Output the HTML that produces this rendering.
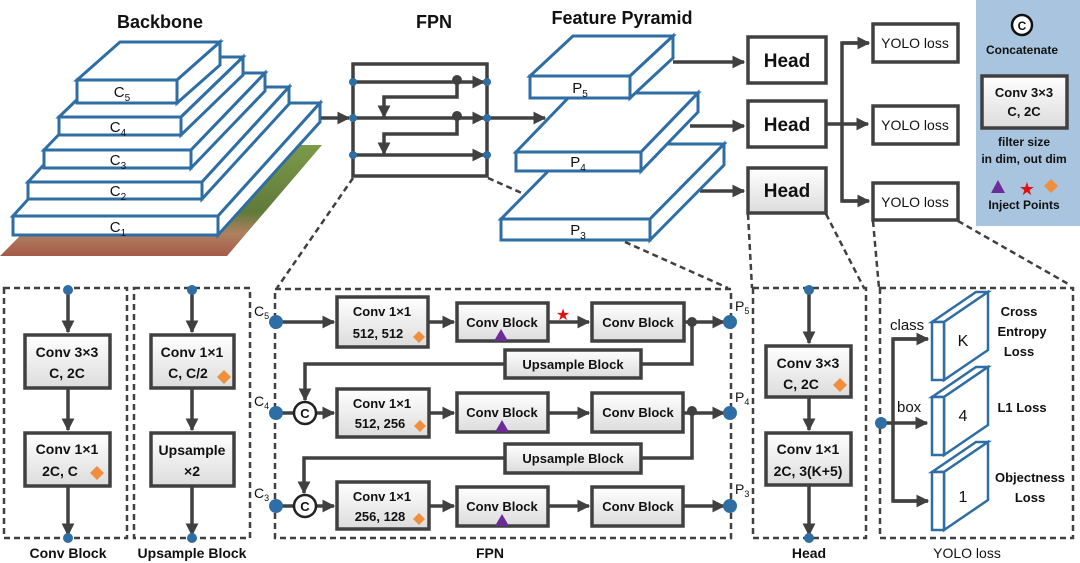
<!DOCTYPE html>
<html><head><meta charset="utf-8"><style>
html,body{margin:0;padding:0;background:#fff}
svg{display:block}
text{font-family:"Liberation Sans",sans-serif;fill:#111}
.b{font-weight:bold}
</style></head><body>
<svg width="1080" height="563" viewBox="0 0 1080 563" xmlns="http://www.w3.org/2000/svg">
<defs>
<marker id="a" viewBox="0 0 10 10" refX="9" refY="5" markerWidth="13" markerHeight="13" markerUnits="userSpaceOnUse" orient="auto"><path d="M0,0L10,5L0,10z" fill="#404040"/></marker>
<linearGradient id="g" x1="0" y1="0" x2="0" y2="1"><stop offset="0" stop-color="#ffffff"/><stop offset="1" stop-color="#dcdcdc"/></linearGradient>
<linearGradient id="img" x1="0" y1="0" x2="0" y2="1"><stop offset="0" stop-color="#7d9a4a"/><stop offset="0.6" stop-color="#5f7a3a"/><stop offset="0.8" stop-color="#b08060"/><stop offset="1" stop-color="#a45a48"/></linearGradient>
</defs>

<text x="160" y="28" font-size="18" class="b" text-anchor="middle">Backbone</text>
<text x="434" y="28" font-size="18" class="b" text-anchor="middle">FPN</text>
<text x="622" y="24" font-size="18" class="b" text-anchor="middle">Feature Pyramid</text>

<polygon points="0,256 227,256 322,145 110,145" fill="url(#img)"/>

<g fill="#fff" stroke="#2f6ea5" stroke-width="3" stroke-linejoin="miter">
<polygon points="13,216 115,103 320,103 218,216"/><polygon points="218,216 320,103 320,122 218,235"/><rect x="13" y="216" width="205" height="19"/>
<polygon points="28,182 115,87 289,87 202,182"/><polygon points="202,182 289,87 289,104 202,199"/><rect x="28" y="182" width="174" height="17"/>
<polygon points="44,150 118,73 265,73 191,150"/><polygon points="191,150 265,73 265,91 191,168"/><rect x="44" y="150" width="147" height="18"/>
<polygon points="59,117 121,57 243,57 181,117"/><polygon points="181,117 243,57 243,75 181,135"/><rect x="59" y="117" width="122" height="18"/>
<polygon points="77,80 120,42 220,42 177,80"/><polygon points="177,80 220,42 220,65 177,103"/><rect x="77" y="80" width="100" height="23"/>
</g>
<g font-size="15" text-anchor="middle">
<text x="118" y="232">C<tspan font-size="10" dy="4">1</tspan></text>
<text x="118" y="196">C<tspan font-size="10" dy="4">2</tspan></text>
<text x="118" y="165">C<tspan font-size="10" dy="4">3</tspan></text>
<text x="118" y="132">C<tspan font-size="10" dy="4">4</tspan></text>
<text x="122" y="97">C<tspan font-size="10" dy="4">5</tspan></text>
</g>

<g stroke="#404040" stroke-width="3.5" fill="none">
<line x1="321" y1="118" x2="349" y2="118" marker-end="url(#a)"/>
<rect x="353" y="64" width="134" height="112"/>
<line x1="353" y1="82" x2="484" y2="82" marker-end="url(#a)"/>
<line x1="353" y1="118" x2="484" y2="118" marker-end="url(#a)"/>
<line x1="353" y1="155" x2="484" y2="155" marker-end="url(#a)"/>
<polyline points="457,82 457,97 384,97 384,117" marker-end="url(#a)"/>
<polyline points="457,118 457,134 384,134 384,154" marker-end="url(#a)"/>
<line x1="487" y1="118" x2="545" y2="118" marker-end="url(#a)"/>
</g>
<g fill="#404040"><circle cx="457" cy="80" r="5"/><circle cx="457" cy="116" r="5"/></g>
<g fill="#2f6ea5"><circle cx="353" cy="82" r="4"/><circle cx="353" cy="118" r="4"/><circle cx="353" cy="155" r="4"/><circle cx="487" cy="82" r="4"/><circle cx="487" cy="118" r="4"/><circle cx="487" cy="155" r="4"/></g>

<g stroke="#404040" stroke-width="2.5" stroke-dasharray="6,4" fill="none">
<line x1="353" y1="178" x2="277" y2="288"/>
<line x1="488" y1="178" x2="524" y2="194"/>
<line x1="625" y1="242" x2="728" y2="288"/>
<line x1="748" y1="214" x2="752" y2="288"/>
<line x1="826" y1="214" x2="864" y2="288"/>
<line x1="873" y1="221" x2="879" y2="288"/>
<line x1="958" y1="221" x2="1070" y2="285"/>
</g>

<g stroke="#404040" stroke-width="3.5" fill="none">
<line x1="673" y1="62" x2="744" y2="62" marker-end="url(#a)"/>
<line x1="690" y1="126" x2="744" y2="126" marker-end="url(#a)"/>
<line x1="700" y1="191" x2="744" y2="191" marker-end="url(#a)"/>
</g>
<g fill="#fff" stroke="#2f6ea5" stroke-width="3">
<polygon points="501,219 575,144 724,144 650,219"/><polygon points="650,219 724,144 724,165 650,240"/><rect x="501" y="219" width="149" height="21"/>
<polygon points="516,152 573,93 698,93 641,152"/><polygon points="641,152 698,93 698,112 641,171"/><rect x="516" y="152" width="125" height="19"/>
<polygon points="530,76 573,36 673,36 630,76"/><polygon points="630,76 673,36 673,58 630,98"/><rect x="530" y="76" width="100" height="22"/>
</g>
<g font-size="15" text-anchor="middle">
<text x="578" y="235">P<tspan font-size="10" dy="4">3</tspan></text>
<text x="578" y="167">P<tspan font-size="10" dy="4">4</tspan></text>
<text x="580" y="93">P<tspan font-size="10" dy="4">5</tspan></text>
</g>

<g stroke="#404040" stroke-width="3.5">
<rect x="748" y="37" width="78" height="46" fill="#fff"/>
<rect x="748" y="101" width="78" height="46" fill="#fff"/>
<rect x="748" y="168" width="78" height="45" fill="url(#g)"/>
<rect x="873" y="24" width="85" height="38" fill="#fff"/>
<rect x="873" y="106" width="85" height="38" fill="#fff"/>
<rect x="873" y="183" width="85" height="37" fill="#fff"/>
</g>
<g stroke="#404040" stroke-width="3.5" fill="none">
<line x1="826" y1="124" x2="868" y2="124" marker-end="url(#a)"/>
<polyline points="868,43 842,43 842,201 868,201"/>
<line x1="842" y1="43" x2="869" y2="43" marker-end="url(#a)"/>
<line x1="842" y1="201" x2="869" y2="201" marker-end="url(#a)"/>
</g>
<g font-size="19" class="b" text-anchor="middle">
<text x="787" y="67" class="b">Head</text><text x="787" y="131" class="b">Head</text><text x="787" y="197" class="b">Head</text>
</g>
<g font-size="14" text-anchor="middle">
<text x="915" y="48">YOLO loss</text><text x="915" y="130">YOLO loss</text><text x="915" y="207">YOLO loss</text>
</g>

<rect x="976" y="0" width="104" height="226" fill="#a8c4de"/>
<circle cx="1022" cy="25" r="10" fill="#fff" stroke="#111" stroke-width="2.5"/>
<text x="1022" y="30" font-size="12" class="b" text-anchor="middle">C</text>
<text x="1022" y="54" font-size="12" class="b" text-anchor="middle">Concatenate</text>
<rect x="982" y="76" width="85" height="52" fill="url(#g)" stroke="#404040" stroke-width="3.5"/>
<text x="1024" y="97" font-size="13" class="b" text-anchor="middle">Conv 3×3</text>
<text x="1024" y="116" font-size="13" class="b" text-anchor="middle">C, 2C</text>
<text x="1024" y="146" font-size="12" class="b" text-anchor="middle">filter size</text>
<text x="1024" y="163" font-size="12" class="b" text-anchor="middle">in dim, out dim</text>
<polygon points="998,180 1005,193 991,193" fill="#6a2d96"/>
<text x="1027" y="195" font-size="18" text-anchor="middle" style="fill:#e01010">★</text>
<polygon points="1051,179 1058,186 1051,193 1044,186" fill="#ef8e3c"/>
<text x="1024" y="209" font-size="12" class="b" text-anchor="middle">Inject Points</text>

<g stroke="#404040" stroke-width="2.5" stroke-dasharray="6,4" fill="none">
<rect x="4" y="288" width="123" height="250"/>
<rect x="134" y="288" width="116" height="250"/>
<rect x="275" y="289" width="456" height="249"/>
<rect x="753" y="288" width="113" height="250"/>
<rect x="880" y="288" width="193" height="250"/>
</g>
<g font-size="14" class="b" text-anchor="middle">
<text x="68" y="558" class="b">Conv Block</text>
<text x="192" y="558" class="b">Upsample Block</text>
<text x="490" y="558" class="b">FPN</text>
<text x="809" y="558" class="b">Head</text>
<text x="967" y="558" font-weight="normal">YOLO loss</text>
</g>

<g stroke="#404040" stroke-width="3.5" fill="none">
<line x1="68" y1="290" x2="68" y2="332" marker-end="url(#a)"/>
<line x1="68" y1="388" x2="68" y2="430" marker-end="url(#a)"/>
<line x1="68" y1="486" x2="68" y2="535" marker-end="url(#a)"/>
<line x1="192" y1="290" x2="192" y2="332" marker-end="url(#a)"/>
<line x1="192" y1="388" x2="192" y2="430" marker-end="url(#a)"/>
<line x1="192" y1="486" x2="192" y2="535" marker-end="url(#a)"/>
<line x1="809" y1="290" x2="809" y2="343" marker-end="url(#a)"/>
<line x1="809" y1="397" x2="809" y2="430" marker-end="url(#a)"/>
<line x1="809" y1="485" x2="809" y2="535" marker-end="url(#a)"/>
</g>
<g stroke="#404040" stroke-width="3.5" fill="url(#g)">
<rect x="25" y="335" width="85" height="53"/><rect x="25" y="433" width="85" height="53"/>
<rect x="151" y="335" width="83" height="53"/><rect x="151" y="433" width="83" height="53"/>
<rect x="766" y="346" width="85" height="51"/><rect x="766" y="433" width="85" height="52"/>
</g>
<g font-size="14" class="b" text-anchor="middle">
<text x="67" y="357" class="b">Conv 3×3</text><text x="67" y="378" class="b">C, 2C</text>
<text x="67" y="454" class="b">Conv 1×1</text><text x="60" y="476" class="b">2C, C</text>
<text x="192" y="357" class="b">Conv 1×1</text><text x="188" y="378" class="b">C, C/2</text>
<text x="192" y="455" class="b">Upsample</text><text x="192" y="476" class="b">×2</text>
<text x="808" y="368" class="b">Conv 3×3</text><text x="801" y="389" class="b">C, 2C</text>
<text x="808" y="454" class="b">Conv 1×1</text><text x="808" y="476" class="b">2C, 3(K+5)</text>
</g>
<g fill="#ef8e3c">
<polygon points="97,466 104,473 97,480 90,473"/>
<polygon points="224,370 231,377 224,384 217,377"/>
<polygon points="840,378 847,385 840,392 833,385"/>
</g>
<g fill="#2f6ea5">
<circle cx="68" cy="290" r="5"/><circle cx="68" cy="538" r="5"/>
<circle cx="192" cy="290" r="5"/><circle cx="192" cy="538" r="5"/>
<circle cx="809" cy="290" r="5"/><circle cx="809" cy="538" r="5"/>
</g>

<g stroke="#404040" stroke-width="3.5" fill="none">
<line x1="276" y1="322" x2="334" y2="322" marker-end="url(#a)"/>
<line x1="428" y1="322" x2="454" y2="322" marker-end="url(#a)"/>
<line x1="548" y1="322" x2="589" y2="322" marker-end="url(#a)"/>
<line x1="684" y1="322" x2="724" y2="322" marker-end="url(#a)"/>
<polyline points="692,322 692,364 641,364"/>
<polyline points="505,364 305,364 305,400" marker-end="url(#a)"/>
<line x1="276" y1="413" x2="294" y2="413"/>
<line x1="316" y1="413" x2="334" y2="413" marker-end="url(#a)"/>
<line x1="429" y1="413" x2="454" y2="413" marker-end="url(#a)"/>
<line x1="548" y1="413" x2="589" y2="413" marker-end="url(#a)"/>
<line x1="683" y1="413" x2="724" y2="413" marker-end="url(#a)"/>
<polyline points="692,411 692,458 641,458"/>
<polyline points="505,458 304,458 304,493" marker-end="url(#a)"/>
<line x1="276" y1="506" x2="294" y2="506"/>
<line x1="316" y1="506" x2="334" y2="506" marker-end="url(#a)"/>
<line x1="429" y1="506" x2="454" y2="506" marker-end="url(#a)"/>
<line x1="548" y1="506" x2="589" y2="506" marker-end="url(#a)"/>
<line x1="683" y1="506" x2="724" y2="506" marker-end="url(#a)"/>
</g>
<g stroke="#404040" stroke-width="3.5" fill="url(#g)">
<rect x="337" y="297" width="91" height="50"/><rect x="457" y="303" width="91" height="38"/><rect x="592" y="303" width="92" height="38"/>
<rect x="505" y="350" width="136" height="28"/>
<rect x="337" y="389" width="92" height="48"/><rect x="457" y="393" width="91" height="39"/><rect x="592" y="393" width="91" height="39"/>
<rect x="505" y="444" width="136" height="29"/>
<rect x="337" y="482" width="92" height="47"/><rect x="457" y="487" width="91" height="39"/><rect x="592" y="487" width="91" height="39"/>
</g>
<g fill="#fff" stroke="#222" stroke-width="2.5"><circle cx="305" cy="413" r="11"/><circle cx="305" cy="506" r="11"/></g>
<g font-size="13" class="b" text-anchor="middle">
<text x="305" y="418" class="b">C</text><text x="305" y="511" class="b">C</text>
</g>
<g fill="#404040"><circle cx="692" cy="322" r="5"/><circle cx="692" cy="411" r="5"/></g>
<g fill="#2f6ea5">
<circle cx="276" cy="322" r="7"/><circle cx="276" cy="413" r="7"/><circle cx="276" cy="506" r="7"/>
<circle cx="730" cy="322" r="7"/><circle cx="730" cy="413" r="7"/><circle cx="730" cy="506" r="7"/>
</g>
<g font-size="14">
<text x="254" y="316">C<tspan font-size="9" dy="3">5</tspan></text>
<text x="254" y="406">C<tspan font-size="9" dy="3">4</tspan></text>
<text x="254" y="498">C<tspan font-size="9" dy="3">3</tspan></text>
<text x="735" y="311">P<tspan font-size="9" dy="3">5</tspan></text>
<text x="735" y="402">P<tspan font-size="9" dy="3">4</tspan></text>
<text x="735" y="494">P<tspan font-size="9" dy="3">3</tspan></text>
</g>
<g font-size="13" class="b" text-anchor="middle">
<text x="382" y="316" class="b">Conv 1×1</text><text x="378" y="338" class="b">512, 512</text>
<text x="502" y="327" class="b">Conv Block</text><text x="638" y="327" class="b">Conv Block</text>
<text x="573" y="369" class="b">Upsample Block</text>
<text x="382" y="408" class="b">Conv 1×1</text><text x="380" y="428" class="b">512, 256</text>
<text x="502" y="417" class="b">Conv Block</text><text x="638" y="417" class="b">Conv Block</text>
<text x="573" y="463" class="b">Upsample Block</text>
<text x="382" y="501" class="b">Conv 1×1</text><text x="380" y="521" class="b">256, 128</text>
<text x="502" y="511" class="b">Conv Block</text><text x="638" y="511" class="b">Conv Block</text>
</g>
<g fill="#6a2d96">
<polygon points="501,329 508,341 494,341"/><polygon points="502,420 509,432 495,432"/><polygon points="502,514 509,526 495,526"/>
</g>
<g fill="#ef8e3c">
<polygon points="419,331 425,337 419,343 413,337"/>
<polygon points="420,420 426,426 420,432 414,426"/>
<polygon points="419,513 425,519 419,525 413,519"/>
</g>
<text x="563" y="320" font-size="16" text-anchor="middle" style="fill:#e01010">★</text>

<g stroke="#404040" stroke-width="3.5" fill="none">
<line x1="881" y1="423" x2="927" y2="423" marker-end="url(#a)"/>
<polyline points="927,339 893,339 893,501 927,501"/>
<line x1="893" y1="339" x2="928" y2="339" marker-end="url(#a)"/>
<line x1="893" y1="501" x2="928" y2="501" marker-end="url(#a)"/>
</g>
<circle cx="881" cy="423" r="6" fill="#2f6ea5"/>
<g fill="#fff" stroke="#2f6ea5" stroke-width="2.5">
<polygon points="932,322 944,322 988,292 976,292"/><polygon points="944,322 988,292 988,350 944,380"/><rect x="932" y="322" width="12" height="58"/>
<polygon points="932,397 944,397 988,367 976,367"/><polygon points="944,397 988,367 988,425 944,455"/><rect x="932" y="397" width="12" height="58"/>
<polygon points="932,472 944,472 988,442 976,442"/><polygon points="944,472 988,442 988,500 944,530"/><rect x="932" y="472" width="12" height="58"/>
</g>
<g font-size="16" text-anchor="middle">
<text x="963" y="346">K</text><text x="963" y="421">4</text><text x="963" y="502">1</text>
</g>
<g font-size="15">
<text x="890" y="330">class</text><text x="897" y="412">box</text>
</g>
<g font-size="13" class="b" text-anchor="middle">
<text x="1019" y="316" class="b">Cross</text><text x="1022" y="336" class="b">Entropy</text><text x="1019" y="356" class="b">Loss</text>
<text x="1022" y="412" class="b">L1 Loss</text>
<text x="1030" y="482" class="b">Objectness</text><text x="1030" y="502" class="b">Loss</text>
</g>
</svg>
</body></html>
